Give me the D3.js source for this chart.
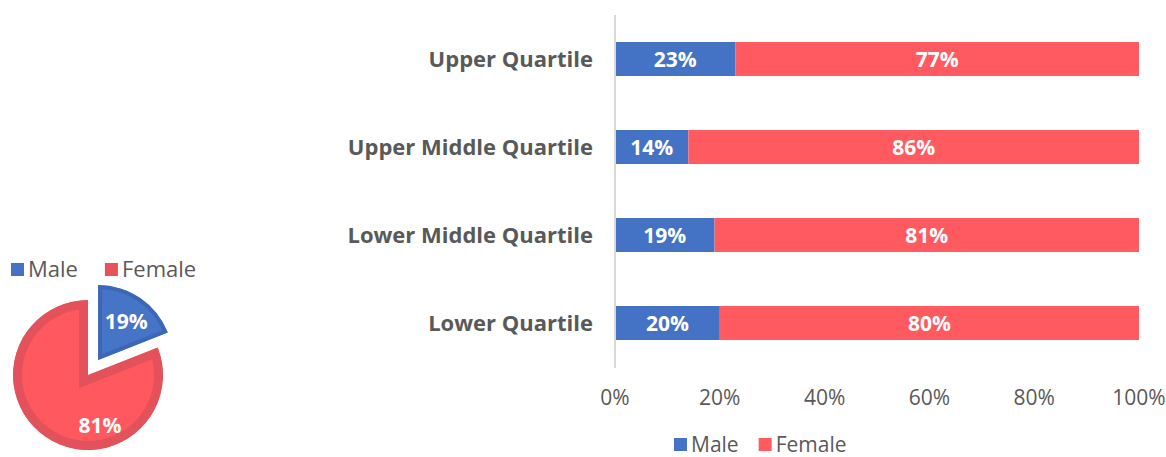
<!DOCTYPE html>
<html>
<head>
<meta charset="utf-8">
<script src="https://cdn.jsdelivr.net/npm/d3@7"></script>
<style>
  body { margin: 0; background: #fff; }
  svg { display: block; font-family: "Open Sans", "DejaVu Sans", sans-serif; }
  .cat { font-weight: bold; font-size: 22px; fill: #595959; }
  .tick-lbl { font-size: 21px; fill: #595959; }
  .seg-lbl { font-weight: bold; font-size: 21px; fill: #fff; }
  .leg { font-size: 22px; fill: #595959; }
  .leg-bottom { font-size: 21px; }
</style>
</head>
<body>
<svg id="chart" width="1166" height="457"></svg>
<script>
// data
var quartiles = ['Upper Quartile', 'Upper Middle Quartile', 'Lower Middle Quartile', 'Lower Quartile']
var maleShare = [23, 14, 19, 20]
var femaleShare = [77, 86, 81, 80]
var xTicks = [0, 20, 40, 60, 80, 100]
var pieLabels = ['Male', 'Female']
var pieValues = [19, 81]

var blue = '#4472C4'
var red = '#FF5A5F'

const svg = d3.select('#chart')

// stacked bar chart
const xScale = d3.scaleLinear().domain([0, 100]).range([615, 1139])
const yScale = d3.scaleBand()
  .domain(quartiles)
  .range([15, 367])
  .paddingInner(0.614)
  .paddingOuter(0.307)

const bars = svg.append('g')

quartiles.forEach(function (q, i) {
  const y = yScale(q)
  const h = yScale.bandwidth()
  bars.append('rect')
    .attr('x', xScale(0))
    .attr('y', y)
    .attr('width', xScale(maleShare[i]) - xScale(0))
    .attr('height', h)
    .attr('fill', blue)
  bars.append('rect')
    .attr('x', xScale(maleShare[i]))
    .attr('y', y)
    .attr('width', xScale(maleShare[i] + femaleShare[i]) - xScale(maleShare[i]))
    .attr('height', h)
    .attr('fill', red)

  bars.append('text')
    .attr('class', 'seg-lbl')
    .attr('x', (xScale(0) + xScale(maleShare[i])) / 2)
    .attr('y', y + h / 2)
    .attr('dy', '0.36em')
    .attr('text-anchor', 'middle')
    .text(maleShare[i] + '%')
  bars.append('text')
    .attr('class', 'seg-lbl')
    .attr('x', (xScale(maleShare[i]) + xScale(maleShare[i] + femaleShare[i])) / 2)
    .attr('y', y + h / 2)
    .attr('dy', '0.36em')
    .attr('text-anchor', 'middle')
    .text(femaleShare[i] + '%')

  svg.append('text')
    .attr('class', 'cat')
    .attr('x', 593)
    .attr('y', y + h / 2)
    .attr('dy', '0.36em')
    .attr('text-anchor', 'end')
    .text(q)
})

// value axis line
svg.append('line')
  .attr('x1', xScale(0)).attr('x2', xScale(0))
  .attr('y1', 15).attr('y2', 368)
  .attr('stroke', '#d9d9d9')
  .attr('stroke-width', 2)

svg.selectAll('.tick-lbl')
  .data(xTicks)
  .enter()
  .append('text')
  .attr('class', 'tick-lbl')
  .attr('x', (d) => xScale(d))
  .attr('y', 397)
  .attr('dy', '0.36em')
  .attr('text-anchor', 'middle')
  .text((d) => d + '%')

// legends
function legend(x, y, items, extraClass) {
  var cx = x
  items.forEach(function (it) {
    svg.append('rect')
      .attr('x', cx).attr('y', y - 6)
      .attr('width', 13).attr('height', 13)
      .attr('fill', it.color)
    var t = svg.append('text')
      .attr('class', 'leg ' + (extraClass || ''))
      .attr('x', cx + 17)
      .attr('y', y)
      .attr('dy', '0.36em')
      .text(it.label)
    cx += 17 + t.node().getComputedTextLength() + it.gap
  })
}
legend(674, 444, [{label: 'Male', color: blue, gap: 20}, {label: 'Female', color: red, gap: 0}], 'leg-bottom')

// pie chart
const pieCenter = [88, 375]
const radius = 75
const explode = 18
const pie = d3.pie().sort(null)(pieValues)
const arc = d3.arc().innerRadius(0).outerRadius(radius)
const pieFill = ['#4674C6', '#FF585E']
const pieEdge = ['#3C67B6', '#E3525A']
// label placement (angle in degrees, distance from slice tip)
const labelAngle = [35.8, 166.8]
const labelDist = [48, 52]

const pieG = svg.append('g').attr('transform', `translate(${pieCenter[0]}, ${pieCenter[1]})`)
const defs = svg.append('defs')

pie.forEach(function (p, i) {
  var mid = (p.startAngle + p.endAngle) / 2
  var off = i === 0 ? explode : 0
  var dx = Math.sin(mid) * off
  var dy = -Math.cos(mid) * off
  var g = pieG.append('g').attr('transform', `translate(${dx}, ${dy})`)
  defs.append('clipPath').attr('id', 'slice' + i)
    .append('path').attr('d', arc(p))
  g.append('path')
    .attr('d', arc(p))
    .attr('fill', pieFill[i])
    .attr('stroke', pieEdge[i])
    .attr('stroke-width', i === 0 ? 8 : 18)
    .attr('stroke-linejoin', 'miter')
    .attr('clip-path', `url(#slice${i})`)
  var a = labelAngle[i] * Math.PI / 180
  g.append('text')
    .attr('class', 'seg-lbl')
    .attr('x', Math.sin(a) * labelDist[i])
    .attr('y', -Math.cos(a) * labelDist[i])
    .attr('dy', '0.36em')
    .attr('text-anchor', 'middle')
    .text(pieValues[i] + '%')
})

// pie legend
legend(11, 269, [{label: pieLabels[0], color: '#4472C4', gap: 27}, {label: pieLabels[1], color: '#E8525A', gap: 0}])
</script>
</body>
</html>
